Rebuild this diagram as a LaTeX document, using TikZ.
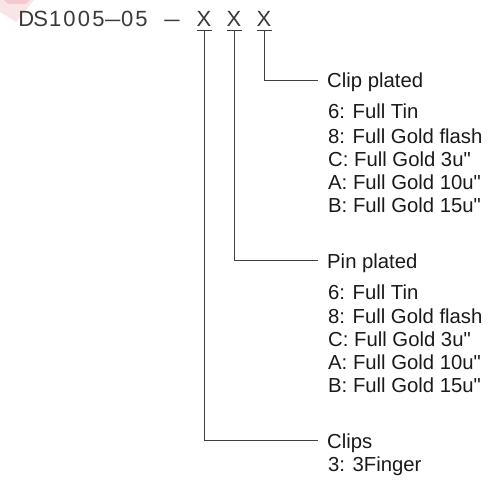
\documentclass[tikz,border=0pt]{standalone}
\usepackage{fontspec}
\setmainfont{Liberation Sans}[Ligatures=TeXOff]
\newfontfamily\hdrfont{Liberation Sans}[Ligatures=TeXOff]
\definecolor{ink}{HTML}{1A1A1A}
\definecolor{hdr}{HTML}{3A3A3A}
\definecolor{wline}{HTML}{404040}
\definecolor{wmark}{HTML}{F9E4E6}
\definecolor{wmarkdark}{HTML}{F2B8BE}
\newcommand\cell[1]{\makebox[14.4pt]{#1}}
\newcommand\longdash{\scalebox{1.25}[1]{–}}
\begin{document}
\begin{tikzpicture}[x=1pt,y=-1pt,
  hdrtext/.style={inner sep=0pt,anchor=base,text=hdr,font=\hdrfont\fontsize{22}{22}\selectfont},
  lbl/.style={inner sep=0pt,anchor=base west,text=ink,font=\fontsize{20.3}{22}\selectfont},
  leader/.style={draw=wline,line width=0.9pt},
  uline/.style={draw=hdr,line width=0.8pt}]
\useasboundingbox (0,0) rectangle (495,492);
% faint watermark
\fill[wmark] (0,0) -- (34,0) -- (16,22) -- (0,12) -- cycle;
\fill[wmarkdark,opacity=0.6] (4,0) -- (30,0) -- (26,4) -- (8,4) -- cycle;
% header
\node[hdrtext,anchor=base west] (code) at (19,26.5) {\cell{D}\cell{S}\cell{1}\cell{0}\cell{0}\cell{5}\cell{\longdash}\cell{0}\cell{5}};
\node[hdrtext] (dash) at (172,26.5) {\longdash};
\node[hdrtext] (x1) at (204,26.5) {X};
\node[hdrtext] (x2) at (234,26.5) {X};
\node[hdrtext] (x3) at (264,26.5) {X};
\coordinate (u1) at (204,30);
\coordinate (u2) at (234,30);
\coordinate (u3) at (264,30);
\foreach \u in {u1,u2,u3}{\draw[uline] ([xshift=-7.5pt]\u) -- ([xshift=7.5pt]\u);}
% leader ends
\coordinate (e3) at (318,80);
\coordinate (e2) at (318,260);
\coordinate (e1) at (318,440);
\draw[leader] (u3) |- (e3);
\draw[leader] (u2) |- (e2);
\draw[leader] (u1) |- (e1);
% Clip plated
\node[lbl] (cp) at (327,88) {Clip plated};
\node[lbl] (cp6) at (328,119) {6: Full Tin};
\node[lbl] (cp8) at (328,143) {8: Full Gold flash};
\node[lbl] (cpC) at (328,166) {C: Full Gold 3u"};
\node[lbl] (cpA) at (328,189) {A: Full Gold 10u"};
\node[lbl] (cpB) at (328,212) {B: Full Gold 15u"};
% Pin plated
\node[lbl] (pp) at (327,268) {Pin plated};
\node[lbl] (pp6) at (328,299) {6: Full Tin};
\node[lbl] (pp8) at (328,323) {8: Full Gold flash};
\node[lbl] (ppC) at (328,346) {C: Full Gold 3u"};
\node[lbl] (ppA) at (328,369) {A: Full Gold 10u"};
\node[lbl] (ppB) at (328,392) {B: Full Gold 15u"};
% Clips
\node[lbl] (cl) at (327,448) {Clips};
\node[lbl] (cl3) at (328,471) {3: 3Finger};
\end{tikzpicture}
\end{document}
